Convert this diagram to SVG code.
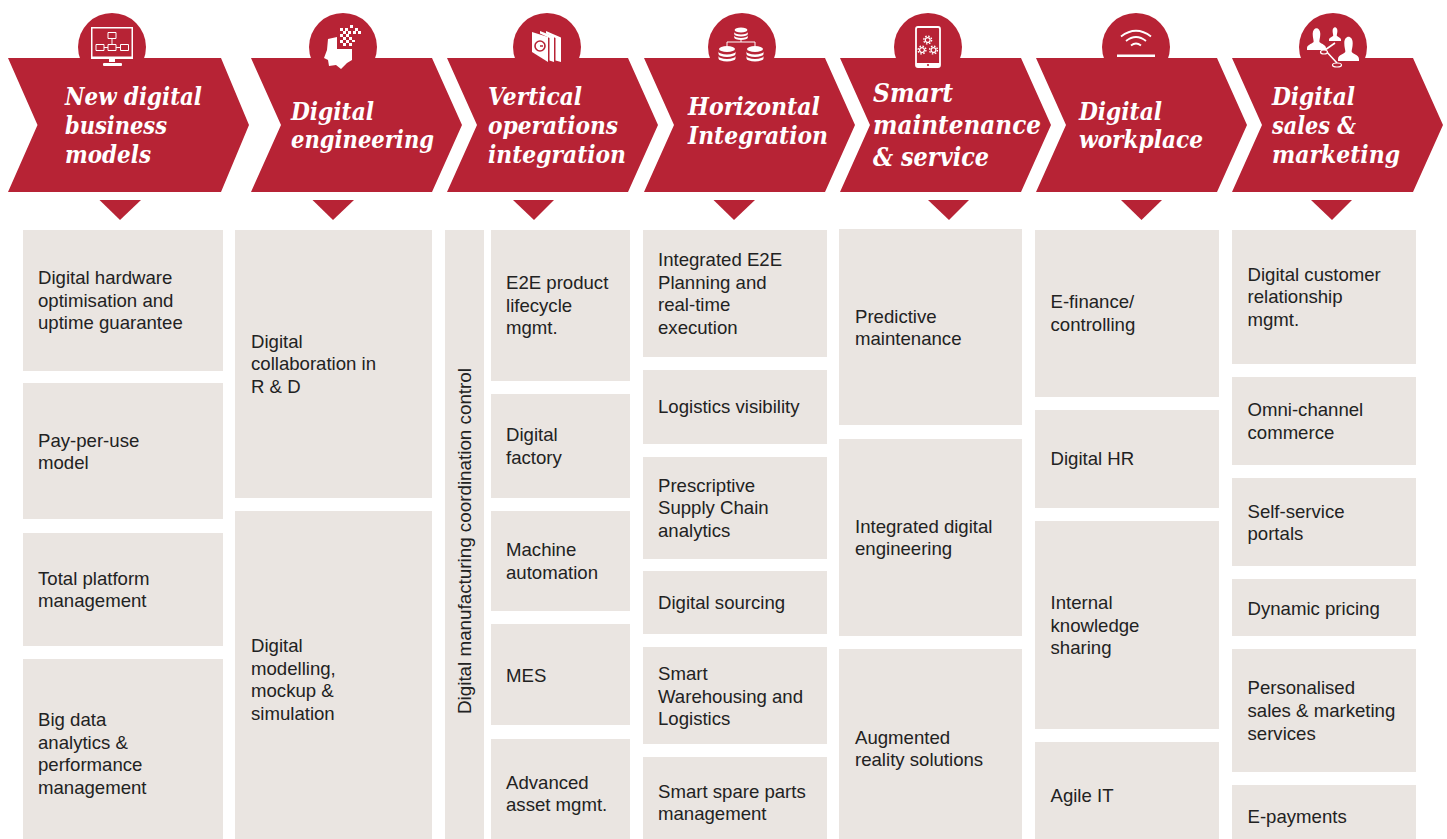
<svg xmlns="http://www.w3.org/2000/svg" width="1447" height="839" viewBox="0 0 1447 839">
<style>
.red{fill:#b72335}
.box{fill:#eae5e1}
.w{fill:#fff}
.wl{fill:none;stroke:#fff;stroke-width:1}
.wl2{fill:none;stroke:#fff;stroke-width:1.6}
.h{font-family:"DejaVu Serif",serif;font-weight:bold;font-style:italic;font-size:23.500px;fill:#fff}
.t{font-family:"Liberation Sans",Arial,sans-serif;font-size:18.600px;fill:#222}
</style>
<defs>
<g id="gear"><circle r="2.400" fill="none" stroke="#fff" stroke-width="1.300"/><circle r="3.900" fill="none" stroke="#fff" stroke-width="1.400" stroke-dasharray="1.600 1.460"/></g>
<g id="disk"><ellipse cx="0" cy="0" rx="8" ry="3" class="w"/><path d="M-8.500 2.500a8.500 3 0 0 0 17 0v2.500a8.500 3 0 0 1-17 0zM-8.500 7a8.500 3 0 0 0 17 0v2.500a8.500 3 0 0 1-17 0z" class="w"/></g>
<path id="person" d="M-4-17C-4-25 4-25 4-17 4-13 3-11 3-9 3-7 10-6 10-2V0H-10V-2C-10-6-3-7-3-9-3-11-4-13-4-17Z" class="w"/>
</defs>
<g id="node-business-models">
<circle class="red" cx="112" cy="47" r="34"/>
<path class="red" d="M8 58H221L249 125 221 192H8L37.500 125Z"/>
<path class="red" d="M99.500 200H141L120 220Z"/>
<path class="w" fill-rule="evenodd" d="M91 27H133V59H91ZM92.500 28.500V56.500H131.500V28.500Z"/>
<rect class="w" x="109" y="59" width="6" height="3"/><rect class="w" x="103" y="63" width="19" height="3" rx="1"/>
<path class="wl" d="M108 32.500h8v6h-8zM96 44.500h8v6h-8zM108 44.500h8v6h-8zM120.500 44.500h8v6h-8zM112 38.500v6M104 47.500h4M116 47.500h4.500"/>
<text class="h"><tspan x="65" y="105" textLength="137" lengthAdjust="spacingAndGlyphs">New digital</tspan><tspan x="65" y="134" textLength="102" lengthAdjust="spacingAndGlyphs">business</tspan><tspan x="65" y="163" textLength="86" lengthAdjust="spacingAndGlyphs">models</tspan></text>
</g>
<g id="node-digital-engineering">
<circle class="red" cx="343" cy="47" r="34"/>
<path class="red" d="M251 58H432L462 125 432 192H251L281 125Z"/>
<path class="red" d="M312.500 200H354L333 220Z"/>
<path class="w" d="M328 39 337 37V49H352V60L347 63 341 69 336 65 329 66 328 60 324 58 327 50Z"/>
<path class="w" d="M340 28h3v3h-3zM345 28h3v3h-3zM350 25h3v3h-3zM355 28h3v3h-3zM358 31h3v3h-3zM353 31h3v3h-3zM343 31h3v3h-3zM348 31h3v3h-3zM340 34h3v3h-3zM346 34h3v3h-3zM343 37h3v3h-3zM349 37h3v3h-3zM340 40h3v3h-3zM346 40h3v3h-3zM352 40h3v2h-3zM343 43h3v3h-3zM349 43h3v3h-3z"/>
<path class="red" d="M337 44h3v5h-3zM345 47h8v2h-8z"/>
<text class="h"><tspan x="291" y="120" textLength="83" lengthAdjust="spacingAndGlyphs">Digital</tspan><tspan x="291" y="148" textLength="143" lengthAdjust="spacingAndGlyphs">engineering</tspan></text>
</g>
<g id="node-vertical-integration">
<circle class="red" cx="547" cy="47" r="34"/>
<path class="red" d="M447 58H628L658 125 628 192H447L477 125Z"/>
<path class="red" d="M513 200H554L534 220Z"/>
<path class="w" d="M546 31 561 37.500V62L555.500 60.500V38L546 33.500Z"/>
<path class="w" d="M540 31 554 36.500V62L549.500 60.500V38L540 33.500Z"/>
<path class="w" d="M532 32 548 37V62L532 52Z"/>
<circle cx="540" cy="46" r="5" fill="none" stroke="#b72335" stroke-width="1.600"/>
<path d="M540 46h3" fill="none" stroke="#b72335" stroke-width="1.500"/>
<text class="h"><tspan x="488" y="105" textLength="94" lengthAdjust="spacingAndGlyphs">Vertical</tspan><tspan x="488" y="134" textLength="130" lengthAdjust="spacingAndGlyphs">operations</tspan><tspan x="488" y="163" textLength="138" lengthAdjust="spacingAndGlyphs">integration</tspan></text>
</g>
<g id="node-horizontal-integration">
<circle class="red" cx="742" cy="47" r="34"/>
<path class="red" d="M644 58H825L855 125 825 192H644L674 125Z"/>
<path class="red" d="M713.500 200H755L734 220Z"/>
<use href="#disk" transform="translate(741 30) scale(.8)"/>
<use href="#disk" x="727" y="49"/>
<use href="#disk" x="755" y="49"/>
<path class="wl" d="M741 40V42M727 46V42H755V46"/>
<text class="h"><tspan x="688" y="115" textLength="132" lengthAdjust="spacingAndGlyphs">Horizontal</tspan><tspan x="688" y="144" textLength="140" lengthAdjust="spacingAndGlyphs">Integration</tspan></text>
</g>
<g id="node-smart-maintenance">
<circle class="red" cx="928" cy="47" r="34"/>
<path class="red" d="M840 58H1021L1051 125 1021 192H840L870 125Z"/>
<path class="red" d="M928 200H969L949 220Z"/>
<rect x="916" y="27" width="24" height="40" rx="2" fill="none" stroke="#fff" stroke-width="1.800"/>
<path class="w" d="M916 63H940V67H916Z"/>
<circle cx="928" cy="65" r="1.100" fill="#b72335"/>
<use href="#gear" x="927.700" y="40"/><use href="#gear" x="922" y="50"/><use href="#gear" x="933.500" y="50"/>
<text class="h" style="font-size:26px"><tspan x="873" y="102" textLength="80" lengthAdjust="spacingAndGlyphs">Smart</tspan><tspan x="873" y="134" textLength="168" lengthAdjust="spacingAndGlyphs">maintenance</tspan><tspan x="873" y="166" textLength="116" lengthAdjust="spacingAndGlyphs">&amp; service</tspan></text>
</g>
<g id="node-digital-workplace">
<circle class="red" cx="1136" cy="47" r="34"/>
<path class="red" d="M1036 58H1217L1247 125 1217 192H1036L1066 125Z"/>
<path class="red" d="M1121 200H1162L1141.500 220Z"/>
<path fill="none" stroke="#fff" stroke-width="1.800" d="M1121 36.500Q1136 25 1151 36.500M1126 41Q1136 33 1146 41M1131 45.500Q1136 41.500 1141 45.500"/>
<rect class="w" x="1117" y="54.500" width="38" height="2.500"/>
<text class="h"><tspan x="1079" y="120" textLength="83" lengthAdjust="spacingAndGlyphs">Digital</tspan><tspan x="1079" y="148" textLength="124" lengthAdjust="spacingAndGlyphs">workplace</tspan></text>
</g>
<g id="node-digital-sales">
<circle class="red" cx="1333" cy="47" r="34"/>
<path class="red" d="M1232 58H1413L1443 125 1413 192H1232L1262 125Z"/>
<path class="red" d="M1311 200H1352L1332 220Z"/>
<use href="#person" transform="translate(1316.500 50) scale(.95)"/>
<use href="#person" transform="translate(1335 41) scale(.6)"/>
<use href="#person" transform="translate(1348.500 61) scale(1.050)"/>
<path class="wl2" d="M1335 43 1325 50 1337 63"/>
<ellipse cx="1324" cy="52" rx="3.500" ry="2" fill="#b72335" stroke="#fff" stroke-width="1.200"/>
<ellipse cx="1337" cy="65" rx="4.500" ry="2" fill="#b72335" stroke="#fff" stroke-width="1.200"/>
<text class="h"><tspan x="1272" y="105" textLength="83" lengthAdjust="spacingAndGlyphs">Digital</tspan><tspan x="1272" y="134" textLength="84" lengthAdjust="spacingAndGlyphs">sales &amp;</tspan><tspan x="1272" y="163" textLength="128" lengthAdjust="spacingAndGlyphs">marketing</tspan></text>
</g>
<g id="col1-1"><rect class="box" x="23" y="230" width="200" height="141"/><text class="t"><tspan x="38" y="284">Digital hardware</tspan><tspan x="38" y="307">optimisation and</tspan><tspan x="38" y="329">uptime guarantee</tspan></text></g>
<g id="col1-2"><rect class="box" x="23" y="383" width="200" height="136"/><text class="t"><tspan x="38" y="447">Pay-per-use</tspan><tspan x="38" y="469">model</tspan></text></g>
<g id="col1-3"><rect class="box" x="23" y="533" width="200" height="113"/><text class="t"><tspan x="38" y="585">Total platform</tspan><tspan x="38" y="607">management</tspan></text></g>
<g id="col1-4"><rect class="box" x="23" y="659" width="200" height="180"/><text class="t"><tspan x="38" y="726">Big data</tspan><tspan x="38" y="749">analytics &amp;</tspan><tspan x="38" y="771">performance</tspan><tspan x="38" y="794">management</tspan></text></g>
<g id="col2-1"><rect class="box" x="235" y="230" width="197" height="268"/><text class="t"><tspan x="251" y="348">Digital</tspan><tspan x="251" y="370">collaboration in</tspan><tspan x="251" y="393">R &amp; D</tspan></text></g>
<g id="col2-2"><rect class="box" x="235" y="511" width="197" height="328"/><text class="t"><tspan x="251" y="652">Digital</tspan><tspan x="251" y="675">modelling,</tspan><tspan x="251" y="697">mockup &amp;</tspan><tspan x="251" y="720">simulation</tspan></text></g>
<g id="col3-v"><rect class="box" x="445" y="230" width="39" height="609"/><text class="t" transform="translate(470.500 714) rotate(-90)" textLength="346" lengthAdjust="spacingAndGlyphs">Digital manufacturing coordination control</text></g>
<g id="col3-1"><rect class="box" x="491" y="230" width="139" height="151"/><text class="t"><tspan x="506" y="289">E2E product</tspan><tspan x="506" y="312">lifecycle</tspan><tspan x="506" y="334">mgmt.</tspan></text></g>
<g id="col3-2"><rect class="box" x="491" y="394" width="139" height="104"/><text class="t"><tspan x="506" y="441">Digital</tspan><tspan x="506" y="464">factory</tspan></text></g>
<g id="col3-3"><rect class="box" x="491" y="511" width="139" height="100"/><text class="t"><tspan x="506" y="556">Machine</tspan><tspan x="506" y="579">automation</tspan></text></g>
<g id="col3-4"><rect class="box" x="491" y="624" width="139" height="101"/><text class="t"><tspan x="506" y="682">MES</tspan></text></g>
<g id="col3-5"><rect class="box" x="491" y="739" width="139" height="100"/><text class="t"><tspan x="506" y="789">Advanced</tspan><tspan x="506" y="811">asset mgmt.</tspan></text></g>
<g id="col4-1"><rect class="box" x="643" y="230" width="184" height="127"/><text class="t"><tspan x="658" y="266">Integrated E2E</tspan><tspan x="658" y="289">Planning and</tspan><tspan x="658" y="311">real-time</tspan><tspan x="658" y="334">execution</tspan></text></g>
<g id="col4-2"><rect class="box" x="643" y="370" width="184" height="74"/><text class="t"><tspan x="658" y="413">Logistics visibility</tspan></text></g>
<g id="col4-3"><rect class="box" x="643" y="457" width="184" height="102"/><text class="t"><tspan x="658" y="492">Prescriptive</tspan><tspan x="658" y="514">Supply Chain</tspan><tspan x="658" y="537">analytics</tspan></text></g>
<g id="col4-4"><rect class="box" x="643" y="571" width="184" height="63"/><text class="t"><tspan x="658" y="609">Digital sourcing</tspan></text></g>
<g id="col4-5"><rect class="box" x="643" y="647" width="184" height="97"/><text class="t"><tspan x="658" y="680">Smart</tspan><tspan x="658" y="703">Warehousing and</tspan><tspan x="658" y="725">Logistics</tspan></text></g>
<g id="col4-6"><rect class="box" x="643" y="757" width="184" height="82"/><text class="t"><tspan x="658" y="798">Smart spare parts</tspan><tspan x="658" y="820">management</tspan></text></g>
<g id="col5-1"><rect class="box" x="839" y="229" width="183" height="196"/><text class="t"><tspan x="855" y="323">Predictive</tspan><tspan x="855" y="345">maintenance</tspan></text></g>
<g id="col5-2"><rect class="box" x="839" y="439" width="183" height="197"/><text class="t"><tspan x="855" y="533">Integrated digital</tspan><tspan x="855" y="555">engineering</tspan></text></g>
<g id="col5-3"><rect class="box" x="839" y="649" width="183" height="190"/><text class="t"><tspan x="855" y="744">Augmented</tspan><tspan x="855" y="766">reality solutions</tspan></text></g>
<g id="col6-1"><rect class="box" x="1035" y="230" width="184" height="167"/><text class="t"><tspan x="1050.500" y="308">E-finance/</tspan><tspan x="1050.500" y="331">controlling</tspan></text></g>
<g id="col6-2"><rect class="box" x="1035" y="410" width="184" height="98"/><text class="t"><tspan x="1050.500" y="465">Digital HR</tspan></text></g>
<g id="col6-3"><rect class="box" x="1035" y="521" width="184" height="208"/><text class="t"><tspan x="1050.500" y="609">Internal</tspan><tspan x="1050.500" y="632">knowledge</tspan><tspan x="1050.500" y="654">sharing</tspan></text></g>
<g id="col6-4"><rect class="box" x="1035" y="742" width="184" height="97"/><text class="t"><tspan x="1050.500" y="802">Agile IT</tspan></text></g>
<g id="col7-1"><rect class="box" x="1232" y="230" width="184" height="134"/><text class="t"><tspan x="1247.500" y="281">Digital customer</tspan><tspan x="1247.500" y="303">relationship</tspan><tspan x="1247.500" y="326">mgmt.</tspan></text></g>
<g id="col7-2"><rect class="box" x="1232" y="377" width="184" height="88"/><text class="t"><tspan x="1247.500" y="416">Omni-channel</tspan><tspan x="1247.500" y="439">commerce</tspan></text></g>
<g id="col7-3"><rect class="box" x="1232" y="478" width="184" height="88"/><text class="t"><tspan x="1247.500" y="518">Self-service</tspan><tspan x="1247.500" y="540">portals</tspan></text></g>
<g id="col7-4"><rect class="box" x="1232" y="579" width="184" height="57"/><text class="t"><tspan x="1247.500" y="615">Dynamic pricing</tspan></text></g>
<g id="col7-5"><rect class="box" x="1232" y="649" width="184" height="123"/><text class="t"><tspan x="1247.500" y="694">Personalised</tspan><tspan x="1247.500" y="717">sales &amp; marketing</tspan><tspan x="1247.500" y="740">services</tspan></text></g>
<g id="col7-6"><rect class="box" x="1232" y="785" width="184" height="54"/><text class="t"><tspan x="1247.500" y="823">E-payments</tspan></text></g>
<g id="connectors"></g>
</svg>
